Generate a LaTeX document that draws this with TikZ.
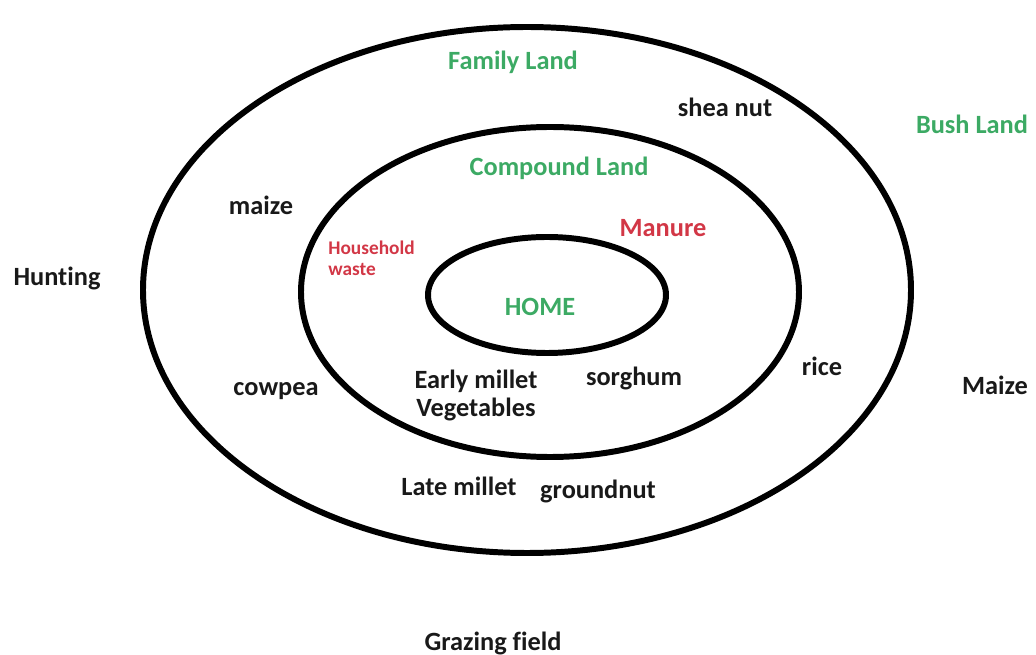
\documentclass[tikz,border=0pt]{standalone}
\usepackage{fontspec}
\setmainfont[Ligatures=NoCommon]{Carlito}
\definecolor{lgreen}{RGB}{60,170,100}
\definecolor{lred}{RGB}{210,55,70}
\definecolor{ink}{RGB}{25,25,25}
\begin{document}
\begin{tikzpicture}[x=0.02cm,y=-0.02cm,
  ring/.style={draw=black,line width=3.4pt},
  lbl/.style={font=\bfseries\fontsize{15}{17}\selectfont,text=ink,inner sep=0pt},
  zone/.style={lbl,text=lgreen},
  input/.style={lbl,text=lred}]
\useasboundingbox (0,0) rectangle (1036,655);
\draw[ring] (527,290) ellipse [x radius=384, y radius=263];
\draw[ring] (550,292) ellipse [x radius=249, y radius=165];
\draw[ring] (547,295) ellipse [x radius=119, y radius=58];
\node[zone] (family) at (513,62) {Family Land};
\node[lbl] (shea) at (725,107) {shea nut};
\node[zone] (bush) at (972,124) {Bush Land};
\node[zone] (compound) at (559,168) {Compound Land};
\node[lbl] (maize) at (261,205) {maize};
\node[input] (manure) at (663,228) {Manure};
\node[input,font=\bfseries\fontsize{11}{12}\selectfont,align=left,anchor=north west] (waste) at (328,241) {Household\\waste};
\node[lbl] (hunting) at (57,278) {Hunting};
\node[zone] (home) at (540,307) {HOME};
\node[lbl] (rice) at (822,366) {rice};
\node[lbl] (Maize) at (995,385) {Maize};
\node[lbl] (cowpea) at (276,391) {cowpea};
\node[lbl] (early) at (476,381) {Early millet};
\node[lbl] (veg) at (476,409) {Vegetables};
\node[lbl] (sorghum) at (634,378) {sorghum};
\node[lbl] (late) at (459,486) {Late millet};
\node[lbl] (ground) at (598,491) {groundnut};
\node[lbl] (grazing) at (493,643) {Grazing field};
\end{tikzpicture}
\end{document}
